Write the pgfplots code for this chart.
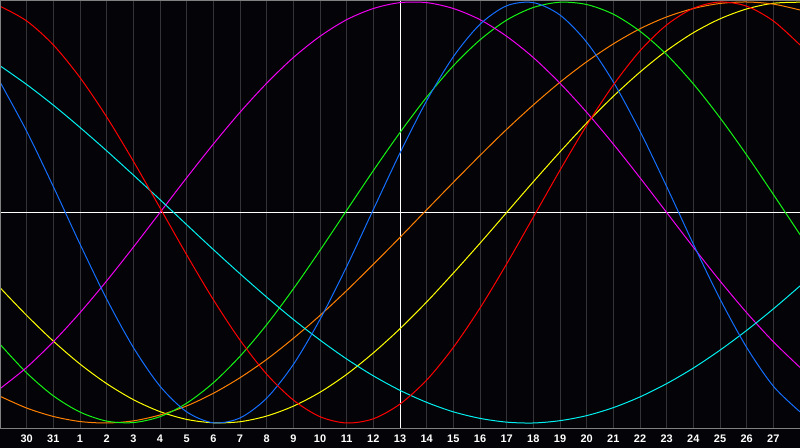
\documentclass[border=0pt]{standalone}
\usepackage{fontspec}
\setmainfont{Liberation Sans}
\usepackage{pgfplots}
\usepackage{pgfplotstable}
\pgfplotsset{compat=1.18}

\definecolor{bgc}{RGB}{4,4,8}
\definecolor{gridc}{RGB}{52,52,56}
\definecolor{framec}{RGB}{128,128,128}
\definecolor{cred}{RGB}{255,0,0}
\definecolor{cblue}{RGB}{20,110,255}
\definecolor{ccyan}{RGB}{0,240,240}
\definecolor{cmag}{RGB}{240,0,240}
\definecolor{cgreen}{RGB}{20,245,20}
\definecolor{corange}{RGB}{255,128,0}
\definecolor{cyellow}{RGB}{255,255,0}

% day index 0 = 29th (left edge), 15 = today (13th)
\pgfplotstableread{
t r b c m g o y
0 0.980 0.620 0.697 -0.837 -0.626 -0.873 -0.357
1 0.910 0.386 0.608 -0.736 -0.762 -0.929 -0.489
2 0.796 0.123 0.510 -0.614 -0.871 -0.969 -0.611
3 0.641 -0.150 0.404 -0.476 -0.948 -0.993 -0.720
4 0.454 -0.411 0.293 -0.325 -0.991 -1.000 -0.813
5 0.244 -0.641 0.178 -0.165 -0.998 -0.990 -0.889
6 0.022 -0.825 0.061 0.000 -0.970 -0.962 -0.946
7 -0.201 -0.947 -0.058 0.165 -0.906 -0.919 -0.983
8 -0.414 -0.999 -0.176 0.325 -0.809 -0.859 -0.999
9 -0.606 -0.976 -0.291 0.476 -0.683 -0.785 -0.994
10 -0.768 -0.882 -0.402 0.614 -0.533 -0.698 -0.967
11 -0.891 -0.722 -0.508 0.736 -0.363 -0.598 -0.920
12 -0.970 -0.508 -0.606 0.837 -0.180 -0.489 -0.854
13 -1.000 -0.257 -0.696 0.916 0.010 -0.371 -0.769
14 -0.980 0.014 -0.776 0.969 0.199 -0.246 -0.667
15 -0.910 0.283 -0.845 0.997 0.380 -0.118 -0.552
16 -0.796 0.531 -0.902 0.997 0.548 0.013 -0.425
17 -0.641 0.740 -0.947 0.969 0.697 0.143 -0.288
18 -0.454 0.894 -0.978 0.916 0.820 0.271 -0.146
19 -0.244 0.982 -0.996 0.837 0.914 0.395 0.000
20 -0.022 0.997 -1.000 0.736 0.974 0.511 0.146
21 0.201 0.938 -0.989 0.614 0.999 0.619 0.288
22 0.414 0.809 -0.965 0.476 0.988 0.716 0.425
23 0.606 0.620 -0.927 0.325 0.942 0.801 0.552
24 0.768 0.386 -0.876 0.165 0.861 0.873 0.667
25 0.891 0.123 -0.813 0.000 0.750 0.929 0.769
26 0.970 -0.150 -0.739 -0.165 0.611 0.969 0.854
27 1.000 -0.411 -0.654 -0.325 0.450 0.993 0.920
28 0.980 -0.641 -0.560 -0.476 0.273 1.000 0.967
29 0.910 -0.825 -0.458 -0.614 0.086 0.990 0.994
30 0.796 -0.947 -0.349 -0.736 -0.105 0.962 0.999
}\bio

\begin{document}
\begin{tikzpicture}
\fill[bgc] (0,-20bp) rectangle (800bp,428bp);
\begin{axis}[
  at={(0,0)}, anchor=south west,
  scale only axis,
  width=800bp, height=428bp,
  xmin=0, xmax=30,
  ymin=-1.0238, ymax=1.0095,
  axis line style={draw=none},
  axis background/.style={fill=bgc},
  xtick={1,...,29},
  xticklabels={30,31,1,2,3,4,5,6,7,8,9,10,11,12,13,14,15,16,17,18,19,20,21,22,23,24,25,26,27},
  ytick=\empty,
  major tick length=0pt,
  xmajorgrids,
  major grid style={draw=gridc, line width=1bp},
  extra x ticks={15},
  extra x tick labels={},
  extra x tick style={grid=major, major grid style={draw=white, line width=1bp}},
  extra y ticks={0},
  extra y tick labels={},
  extra y tick style={grid=major, major grid style={draw=white, line width=1bp}},
  xticklabel style={anchor=center, yshift=-11bp, text=white,
    font=\bfseries\fontsize{11}{11}\selectfont},
  /pgf/number format/assume math mode=true,
  every axis plot/.append style={line width=1bp, smooth, no marks},
]
\addplot[cyellow] table[x=t, y=y] {\bio};
\addplot[corange] table[x=t, y=o] {\bio};
\addplot[cgreen] table[x=t, y=g] {\bio};
\addplot[cmag] table[x=t, y=m] {\bio};
\addplot[ccyan] table[x=t, y=c] {\bio};
\addplot[cblue] table[x=t, y=b] {\bio};
\addplot[cred] table[x=t, y=r] {\bio};
\end{axis}
\draw[framec, line width=1bp] (0.5bp,427.5bp) -- (800bp,427.5bp);
\draw[framec, line width=1bp] (0.5bp,0) -- (0.5bp,428bp);
\draw[framec, line width=1bp] (0,0) -- (800bp,0);
\pgfresetboundingbox
\path[use as bounding box] (0,-20bp) rectangle (800bp,428bp);
\end{tikzpicture}
\end{document}
